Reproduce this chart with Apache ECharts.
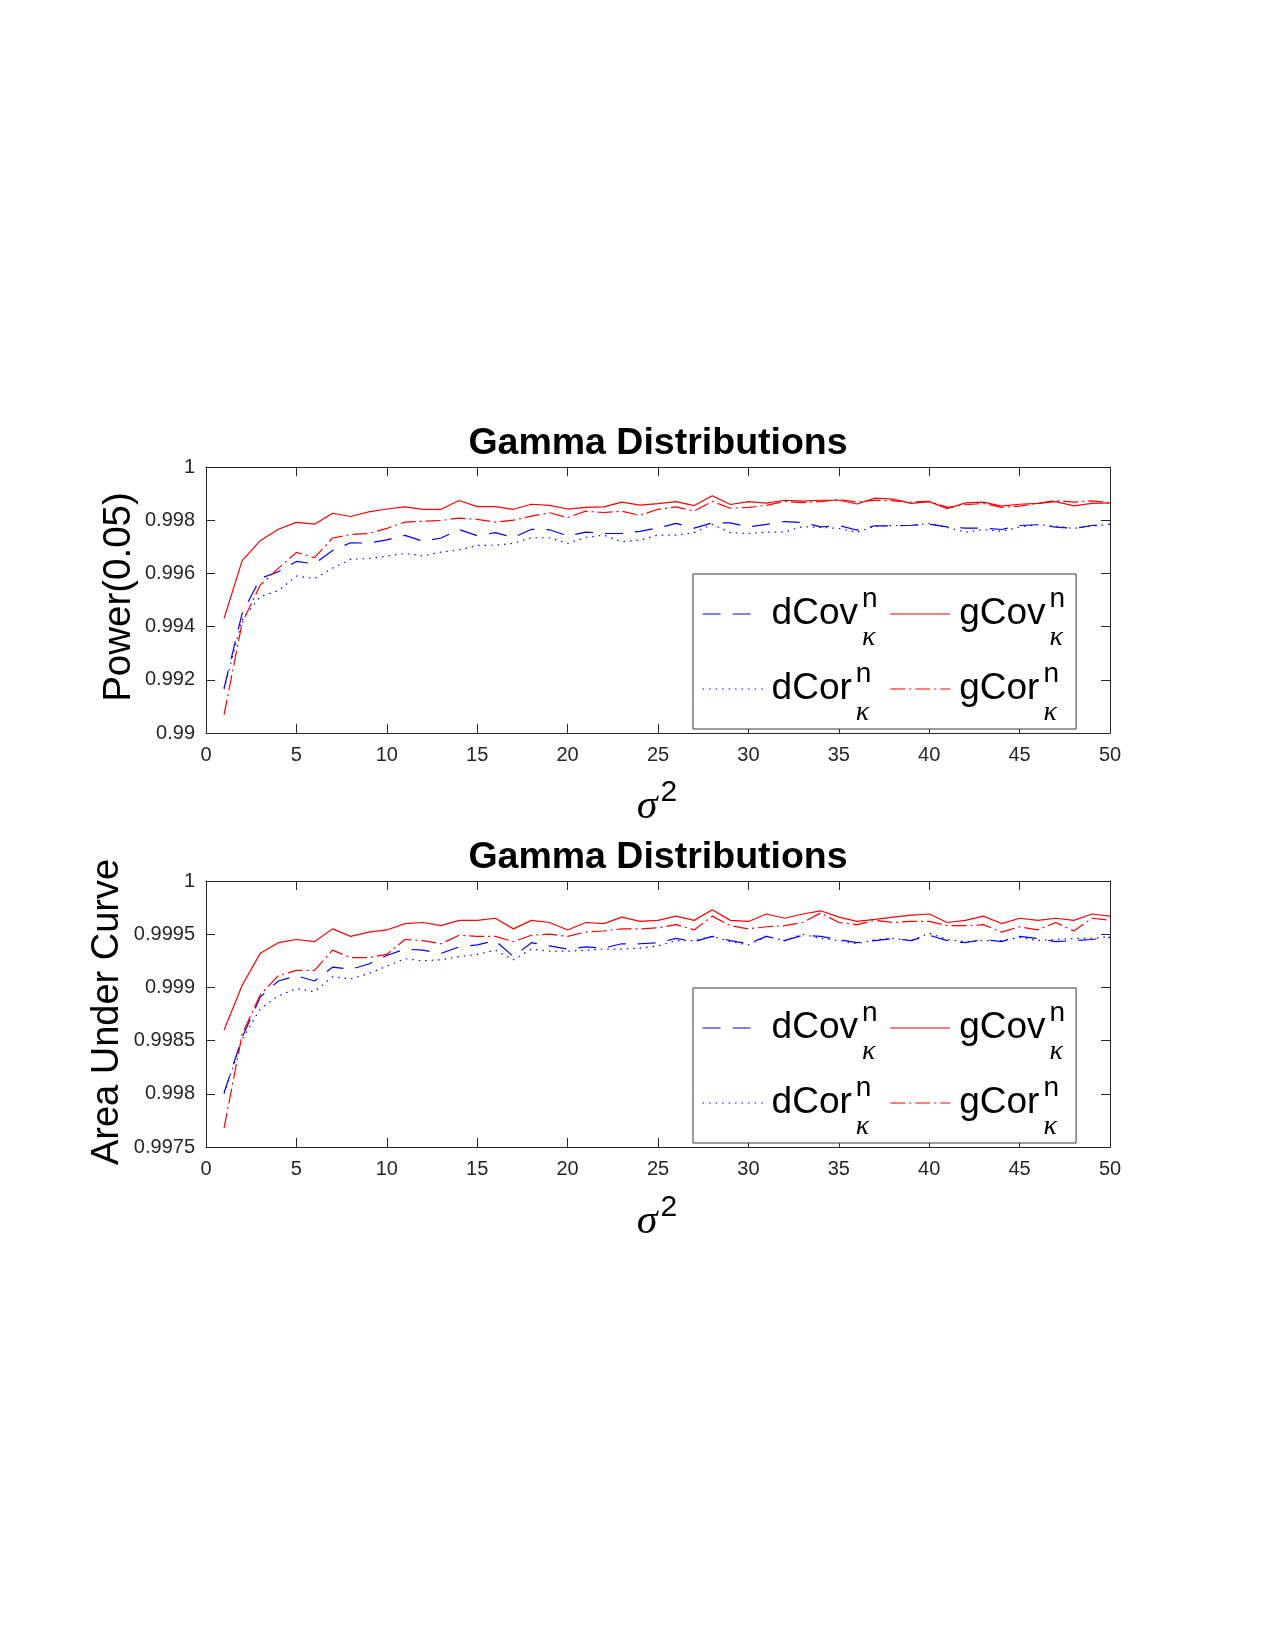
<!DOCTYPE html>
<html>
<head>
<meta charset="utf-8">
<script src="https://cdn.jsdelivr.net/npm/echarts@6/dist/echarts.min.js"></script>
<style>
  body { margin: 0; background: #fff; }
  #chart { width: 1275px; height: 1650px; }
</style>
</head>
<body>
<div id="chart"></div>
<script>
const sigma2 = [1, 2, 3, 4, 5, 6, 7, 8, 9, 10, 11, 12, 13, 14, 15, 16, 17, 18, 19, 20,
  21, 22, 23, 24, 25, 26, 27, 28, 29, 30, 31, 32, 33, 34, 35, 36, 37, 38, 39, 40,
  41, 42, 43, 44, 45, 46, 47, 48, 49, 50];

// Power(0.05)
const powDCov = [0.99169, 0.99450, 0.99581, 0.99606, 0.99645, 0.99636, 0.99686, 0.99715, 0.99714, 0.99726,
  0.99743, 0.99721, 0.99733, 0.99765, 0.99742, 0.99753, 0.99735, 0.99766, 0.99764, 0.99741,
  0.99755, 0.99750, 0.99750, 0.99758, 0.99771, 0.99788, 0.99770, 0.99790, 0.99790, 0.99775,
  0.99784, 0.99795, 0.99791, 0.99775, 0.99780, 0.99763, 0.99779, 0.99779, 0.99781, 0.99785,
  0.99775, 0.99770, 0.99770, 0.99765, 0.99780, 0.99783, 0.99774, 0.99769, 0.99780, 0.99785];
const powGCov = [0.99431, 0.99648, 0.99723, 0.99766, 0.99792, 0.99785, 0.99826, 0.99814, 0.99831, 0.99842,
  0.99850, 0.99841, 0.99841, 0.99874, 0.99851, 0.99851, 0.99841, 0.99860, 0.99856, 0.99842,
  0.99848, 0.99850, 0.99868, 0.99857, 0.99862, 0.99870, 0.99855, 0.99892, 0.99859, 0.99870,
  0.99864, 0.99875, 0.99872, 0.99875, 0.99875, 0.99861, 0.99883, 0.99879, 0.99863, 0.99870,
  0.99843, 0.99865, 0.99868, 0.99853, 0.99860, 0.99863, 0.99870, 0.99854, 0.99863, 0.99865];
const powDCor = [0.99165, 0.99425, 0.99513, 0.99535, 0.99590, 0.99581, 0.99620, 0.99653, 0.99656, 0.99665,
  0.99675, 0.99666, 0.99680, 0.99688, 0.99705, 0.99706, 0.99713, 0.99734, 0.99734, 0.99713,
  0.99735, 0.99744, 0.99719, 0.99725, 0.99744, 0.99744, 0.99753, 0.99785, 0.99753, 0.99750,
  0.99755, 0.99756, 0.99776, 0.99773, 0.99769, 0.99755, 0.99778, 0.99780, 0.99780, 0.99788,
  0.99773, 0.99755, 0.99765, 0.99758, 0.99775, 0.99783, 0.99778, 0.99769, 0.99778, 0.99785];
const powGCor = [0.99069, 0.99415, 0.99556, 0.99619, 0.99679, 0.99659, 0.99733, 0.99746, 0.99750, 0.99769,
  0.99793, 0.99796, 0.99799, 0.99808, 0.99803, 0.99793, 0.99800, 0.99815, 0.99828, 0.99810,
  0.99834, 0.99829, 0.99834, 0.99818, 0.99841, 0.99850, 0.99834, 0.99871, 0.99845, 0.99848,
  0.99856, 0.99871, 0.99866, 0.99870, 0.99878, 0.99868, 0.99875, 0.99873, 0.99868, 0.99871,
  0.99848, 0.99858, 0.99863, 0.99848, 0.99853, 0.99863, 0.99874, 0.99868, 0.99873, 0.99865];

// Area Under Curve
const aucDCov = [0.99801, 0.99853, 0.99891, 0.99906, 0.99911, 0.99906, 0.99919, 0.99917, 0.99922, 0.99930,
  0.99936, 0.99935, 0.99932, 0.99938, 0.99940, 0.99944, 0.99929, 0.99942, 0.99939, 0.99936,
  0.99938, 0.99937, 0.99941, 0.99941, 0.99942, 0.99946, 0.99943, 0.99948, 0.99944, 0.99941,
  0.99948, 0.99944, 0.99949, 0.99948, 0.99945, 0.99942, 0.99944, 0.99946, 0.99944, 0.99949,
  0.99944, 0.99942, 0.99945, 0.99943, 0.99948, 0.99946, 0.99943, 0.99944, 0.99945, 0.99947];
const aucGCov = [0.99860, 0.99902, 0.99932, 0.99942, 0.99945, 0.99943, 0.99955, 0.99948, 0.99952, 0.99954,
  0.99960, 0.99961, 0.99958, 0.99963, 0.99963, 0.99965, 0.99955, 0.99963, 0.99961, 0.99954,
  0.99961, 0.99960, 0.99966, 0.99962, 0.99963, 0.99967, 0.99963, 0.99973, 0.99963, 0.99962,
  0.99969, 0.99965, 0.99969, 0.99972, 0.99966, 0.99962, 0.99964, 0.99966, 0.99968, 0.99969,
  0.99961, 0.99963, 0.99967, 0.99960, 0.99965, 0.99963, 0.99965, 0.99963, 0.99969, 0.99967];
const aucDCor = [0.99800, 0.99851, 0.99880, 0.99892, 0.99899, 0.99896, 0.99910, 0.99908, 0.99913, 0.99920,
  0.99927, 0.99925, 0.99926, 0.99929, 0.99931, 0.99935, 0.99926, 0.99936, 0.99934, 0.99934,
  0.99935, 0.99936, 0.99936, 0.99937, 0.99939, 0.99944, 0.99944, 0.99948, 0.99943, 0.99940,
  0.99948, 0.99944, 0.99950, 0.99946, 0.99944, 0.99941, 0.99945, 0.99946, 0.99944, 0.99951,
  0.99945, 0.99943, 0.99944, 0.99944, 0.99947, 0.99944, 0.99945, 0.99946, 0.99946, 0.99948];
const aucGCor = [0.99768, 0.99856, 0.99893, 0.99911, 0.99916, 0.99916, 0.99935, 0.99928, 0.99928, 0.99931,
  0.99945, 0.99944, 0.99941, 0.99949, 0.99948, 0.99948, 0.99943, 0.99949, 0.99950, 0.99948,
  0.99952, 0.99953, 0.99955, 0.99955, 0.99956, 0.99959, 0.99954, 0.99967, 0.99958, 0.99955,
  0.99957, 0.99958, 0.99961, 0.99970, 0.99961, 0.99959, 0.99963, 0.99961, 0.99962, 0.99962,
  0.99958, 0.99958, 0.99959, 0.99952, 0.99957, 0.99954, 0.99961, 0.99953, 0.99965, 0.99963];

const seriesNames = ['dCov', 'gCov', 'dCor', 'gCor'];
const xTicks = { min: 0, max: 50, interval: 5 };
const powTicks = { min: 0.99, max: 1, interval: 0.002 };
const aucTicks = { min: 0.9975, max: 1, interval: 0.0005 };

const axisColor = '#262626';
const font = 'Liberation Sans, Arial, sans-serif';
const serif = 'Liberation Serif, serif';
const styles = {
  dCov: { color: '#0000ff', type: [18, 12] },
  gCov: { color: '#ff0000', type: 'solid' },
  dCor: { color: '#0000ff', type: [1.5, 5] },
  gCor: { color: '#ff0000', type: [15, 4, 2, 4] }
};

function pairs(values) {
  return sigma2.map((s, i) => [s, values[i]]);
}

function lineSeries(name, values, axisIndex) {
  return {
    name: name,
    type: 'line',
    xAxisIndex: axisIndex,
    yAxisIndex: axisIndex,
    data: pairs(values),
    symbol: 'none',
    lineStyle: { color: styles[name].color, type: styles[name].type, width: 1.2 },
    itemStyle: { color: styles[name].color },
    z: name[0] === 'g' ? 3 : 2
  };
}

function xAxes(gridIndex) {
  const base = {
    type: 'value', gridIndex: gridIndex, min: xTicks.min, max: xTicks.max, interval: xTicks.interval,
    axisLine: { onZero: false, lineStyle: { color: axisColor, width: 1 } },
    axisTick: { inside: true, length: 9, lineStyle: { color: axisColor } },
    splitLine: { show: false }
  };
  return [
    Object.assign({}, base, {
      position: 'bottom',
      axisLabel: { margin: 12, color: axisColor, fontFamily: font, fontSize: 20, lineHeight: 20 }
    }),
    Object.assign({}, base, { position: 'top', axisLabel: { show: false } })
  ];
}

function yAxes(gridIndex, ticks) {
  const base = {
    type: 'value', gridIndex: gridIndex, min: ticks.min, max: ticks.max, interval: ticks.interval,
    axisLine: { show: true, onZero: false, lineStyle: { color: axisColor, width: 1 } },
    axisTick: { show: true, inside: true, length: 9, lineStyle: { color: axisColor } },
    splitLine: { show: false }
  };
  return [
    Object.assign({}, base, {
      position: 'left',
      axisLabel: {
        margin: 11, color: axisColor, fontFamily: font, fontSize: 20,
        formatter: v => String(+v.toFixed(5))
      }
    }),
    Object.assign({}, base, { position: 'right', axisLabel: { show: false } })
  ];
}

// main word, then superscript n and subscript kappa stacked at the same x;
// the kappa slot width evens out the columns
const kappaSlot = { dCov: 'k1', dCor: 'k2', gCov: 'k3', gCor: 'k4' };
function legendLabel(name) {
  return '{g| }{m|' + name + '}{g| }{n|n}{' + kappaSlot[name] + '|κ}';
}

function kappa(width) {
  return {
    fontFamily: serif, fontStyle: 'italic', fontSize: 28, lineHeight: 10, width: width,
    padding: [47, 0, 0, 0], color: '#000', verticalAlign: 'top', align: 'left'
  };
}

function legendFor(top) {
  return {
    data: seriesNames,
    left: 693,
    top: top,
    width: 380,
    orient: 'horizontal',
    itemWidth: 60,
    itemHeight: 75,
    itemGap: 0,
    padding: [2.5, 11, 2.5, 9],
    borderColor: '#3a3a3a',
    borderWidth: 1,
    backgroundColor: '#ffffff',
    selectedMode: false,
    itemStyle: { opacity: 0 },
    lineStyle: { width: 1.2 },
    formatter: legendLabel,
    textStyle: {
      rich: {
        g: { fontFamily: font, fontSize: 10, lineHeight: 10, width: 4, verticalAlign: 'middle', align: 'left' },
        m: { fontFamily: font, fontSize: 37, lineHeight: 75, color: '#000', verticalAlign: 'middle', align: 'left' },
        n: { fontFamily: font, fontSize: 28, lineHeight: 10, width: 0, padding: [8.5, 0, 0, 0], color: '#000', verticalAlign: 'top', align: 'left' },
        k1: kappa(27.6),
        k2: kappa(33.8),
        k3: kappa(5.5),
        k4: kappa(11.7)
      }
    }
  };
}

function centerText(text, x, y, fontSpec) {
  return {
    type: 'text', x: x, y: y, silent: true,
    style: { text: text, font: fontSpec, fill: '#000', align: 'center', verticalAlign: 'middle' }
  };
}

function sigmaLabel(y) {
  return {
    type: 'text', x: 657, y: y, silent: true,
    style: {
      text: '{s|σ}{p|2}', align: 'center', verticalAlign: 'top', fill: '#000',
      rich: {
        s: { fontFamily: serif, fontStyle: 'italic', fontSize: 42, lineHeight: 50, verticalAlign: 'bottom' },
        p: { fontFamily: font, fontSize: 30, lineHeight: 22, verticalAlign: 'top', padding: [0, 0, 0, 3] }
      }
    }
  };
}

function yName(text, x, y, size) {
  return {
    type: 'text', x: x, y: y, rotation: Math.PI / 2, silent: true,
    style: { text: text, font: size + 'px ' + font, fill: '#000', align: 'center', verticalAlign: 'middle' }
  };
}

const chart = echarts.init(document.getElementById('chart'), null, { renderer: 'canvas' });
chart.setOption({
  animation: false,
  backgroundColor: '#ffffff',
  grid: [
    { left: 206, top: 467, width: 904, height: 266 },
    { left: 206, top: 881, width: 904, height: 266 }
  ],
  xAxis: xAxes(0).concat(xAxes(1)),
  yAxis: yAxes(0, powTicks).concat(yAxes(1, aucTicks)),
  legend: [legendFor(574), legendFor(988)],
  series: [
    lineSeries('dCov', powDCov, 0),
    lineSeries('gCov', powGCov, 0),
    lineSeries('dCor', powDCor, 0),
    lineSeries('gCor', powGCor, 0),
    lineSeries('dCov', aucDCov, 2),
    lineSeries('gCov', aucGCov, 2),
    lineSeries('dCor', aucDCor, 2),
    lineSeries('gCor', aucGCor, 2)
  ],
  graphic: [
    centerText('Gamma Distributions', 658, 443.5, 'bold 37.5px ' + font),
    centerText('Gamma Distributions', 658, 857.5, 'bold 37.5px ' + font),
    yName('Power(0.05)', 119, 597, 38.5),
    yName('Area Under Curve', 108, 1012, 38),
    sigmaLabel(778),
    sigmaLabel(1193)
  ]
});
</script>
</body>
</html>
